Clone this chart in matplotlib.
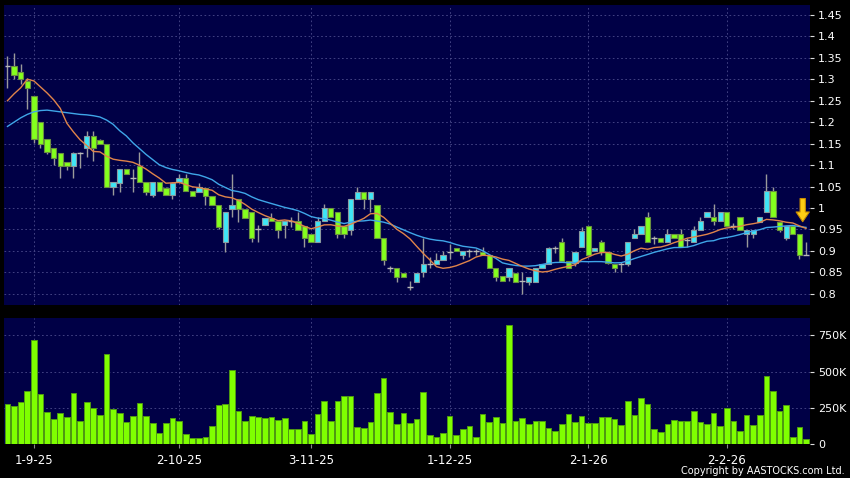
import matplotlib
matplotlib.use('Agg')
import matplotlib.pyplot as plt
import numpy as np
import pandas as pd

# daily OHLC (HK$), oldest first
opens = [
    1.33, 1.33, 1.317, 1.296, 1.26, 1.20, 1.161, 1.14, 1.128, 1.107,
    1.098, 1.128, 1.14, 1.168, 1.159, 1.15, 1.05, 1.058, 1.09, 1.07,
    1.098, 1.06, 1.03, 1.06, 1.047, 1.03, 1.061, 1.07, 1.04, 1.038,
    1.047, 1.028, 1.008, 0.921, 0.998, 1.02, 0.998, 0.991, 0.95, 0.96,
    0.977, 0.97, 0.96, 0.97, 0.97, 0.958, 0.94, 0.921, 0.97, 1.0,
    0.991, 0.958, 0.949, 1.02, 1.037, 1.02, 1.008, 0.93, 0.86, 0.86,
    0.849, 0.816, 0.828, 0.851, 0.87, 0.87, 0.879, 0.898, 0.907, 0.891,
    0.9, 0.9, 0.898, 0.891, 0.86, 0.842, 0.84, 0.849, 0.83, 0.828,
    0.828, 0.86, 0.87, 0.907, 0.921, 0.877, 0.872, 0.91, 0.958, 0.9,
    0.921, 0.898, 0.87, 0.87, 0.87, 0.93, 0.94, 0.979, 0.93, 0.93,
    0.921, 0.94, 0.94, 0.925, 0.921, 0.949, 0.979, 0.979, 0.97, 0.991,
    0.958, 0.979, 0.94, 0.94, 0.968, 0.991, 1.04, 0.968, 0.93, 0.958,
    0.94, 0.89]
highs = [
    1.355, 1.36, 1.335, 1.303, 1.262, 1.20, 1.161, 1.14, 1.128, 1.107,
    1.13, 1.13, 1.18, 1.18, 1.16, 1.15, 1.06, 1.09, 1.09, 1.09,
    1.13, 1.06, 1.06, 1.06, 1.05, 1.06, 1.079, 1.079, 1.04, 1.059,
    1.047, 1.028, 1.008, 0.991, 1.08, 1.02, 0.998, 0.991, 0.96, 0.977,
    0.988, 0.97, 0.97, 0.98, 0.99, 0.958, 0.94, 0.979, 1.01, 1.0,
    0.991, 0.958, 1.02, 1.05, 1.037, 1.037, 1.008, 0.93, 0.865, 0.86,
    0.849, 0.83, 0.849, 0.93, 0.885, 0.895, 0.90, 0.915, 0.907, 0.9,
    0.905, 0.905, 0.91, 0.891, 0.86, 0.842, 0.86, 0.849, 0.85, 0.84,
    0.86, 0.87, 0.91, 0.912, 0.93, 0.877, 0.898, 0.955, 0.958, 0.907,
    0.925, 0.898, 0.87, 0.875, 0.921, 0.95, 0.958, 0.99, 0.935, 0.93,
    0.95, 0.94, 0.95, 0.93, 0.958, 0.98, 0.991, 1.01, 0.991, 0.991,
    0.965, 0.979, 0.949, 0.949, 0.979, 1.079, 1.05, 0.968, 0.958, 0.958,
    0.94, 0.92]
lows = [
    1.28, 1.30, 1.29, 1.23, 1.152, 1.14, 1.126, 1.10, 1.07, 1.089,
    1.07, 1.093, 1.119, 1.11, 1.15, 1.048, 1.03, 1.037, 1.08, 1.037,
    1.06, 1.03, 1.025, 1.04, 1.03, 1.02, 1.061, 1.04, 1.028, 1.038,
    1.007, 1.008, 0.95, 0.898, 0.98, 0.968, 0.977, 0.921, 0.921, 0.96,
    0.97, 0.93, 0.93, 0.955, 0.949, 0.91, 0.921, 0.921, 0.97, 0.98,
    0.93, 0.93, 0.937, 1.02, 0.998, 0.991, 0.93, 0.867, 0.85, 0.828,
    0.84, 0.81, 0.828, 0.84, 0.86, 0.87, 0.879, 0.88, 0.9, 0.88,
    0.885, 0.89, 0.891, 0.86, 0.83, 0.829, 0.83, 0.828, 0.80, 0.82,
    0.828, 0.86, 0.87, 0.895, 0.877, 0.86, 0.865, 0.91, 0.89, 0.9,
    0.89, 0.87, 0.85, 0.85, 0.865, 0.93, 0.94, 0.921, 0.915, 0.921,
    0.921, 0.93, 0.91, 0.91, 0.921, 0.949, 0.979, 0.96, 0.97, 0.958,
    0.95, 0.949, 0.91, 0.93, 0.968, 0.991, 0.979, 0.945, 0.925, 0.94,
    0.88, 0.89]
closes = [
    1.33, 1.31, 1.30, 1.28, 1.16, 1.149, 1.131, 1.117, 1.098, 1.098,
    1.128, 1.128, 1.168, 1.14, 1.15, 1.05, 1.06, 1.09, 1.08, 1.07,
    1.06, 1.037, 1.06, 1.04, 1.03, 1.059, 1.07, 1.04, 1.028, 1.05,
    1.028, 1.008, 0.955, 0.991, 1.008, 0.998, 0.977, 0.93, 0.95, 0.977,
    0.97, 0.949, 0.97, 0.97, 0.949, 0.93, 0.921, 0.97, 1.0, 0.98,
    0.94, 0.94, 1.02, 1.037, 1.02, 1.037, 0.93, 0.879, 0.86, 0.84,
    0.84, 0.816, 0.849, 0.87, 0.87, 0.879, 0.891, 0.898, 0.9, 0.9,
    0.9, 0.9, 0.891, 0.86, 0.84, 0.829, 0.86, 0.828, 0.83, 0.84,
    0.86, 0.87, 0.907, 0.907, 0.877, 0.86, 0.898, 0.947, 0.891, 0.907,
    0.898, 0.872, 0.86, 0.87, 0.921, 0.94, 0.958, 0.921, 0.93, 0.921,
    0.94, 0.93, 0.91, 0.925, 0.949, 0.97, 0.991, 0.97, 0.991, 0.958,
    0.958, 0.949, 0.949, 0.949, 0.979, 1.04, 0.979, 0.949, 0.958, 0.94,
    0.891, 0.89]
# volume in thousands of shares
volumes = [
    273, 264, 289, 363, 715, 347, 218, 174, 215, 188,
    350, 157, 287, 252, 197, 620, 241, 215, 155, 194,
    282, 192, 148, 76, 146, 181, 160, 72, 42, 42,
    51, 127, 271, 273, 509, 231, 157, 194, 188, 178,
    185, 169, 178, 104, 104, 157, 72, 204, 294, 162,
    296, 333, 329, 116, 113, 155, 354, 454, 218, 141,
    215, 146, 176, 356, 65, 51, 76, 194, 65, 106,
    123, 51, 208, 155, 185, 148, 822, 157, 181, 139,
    160, 157, 111, 88, 141, 208, 155, 190, 146, 146,
    185, 185, 176, 132, 294, 201, 317, 278, 104, 83,
    141, 169, 160, 160, 227, 155, 137, 213, 123, 248,
    162, 88, 197, 132, 201, 472, 363, 225, 271, 51,
    118, 37]

# moving averages before enough closes are on the chart
ma10_head = [1.25, 1.266, 1.28, 1.30, 1.296, 1.282, 1.268, 1.252, 1.232]
ma20_head = [1.19, 1.20, 1.21, 1.218, 1.224, 1.227, 1.228, 1.226, 1.224, 1.222,
             1.22, 1.218, 1.217, 1.215, 1.212, 1.205, 1.195, 1.18, 1.168]

tick_pos = [4, 26, 46, 67, 88, 109]
tick_labels = ['1-9-25', '2-10-25', '3-11-25', '1-12-25', '2-1-26', '2-2-26']

df = pd.DataFrame({'open': opens, 'high': highs, 'low': lows,
                   'close': closes, 'volume': volumes})
ma10 = df['close'].rolling(10).mean()
ma10.iloc[:len(ma10_head)] = ma10_head
ma20 = df['close'].rolling(20).mean()
ma20.iloc[:len(ma20_head)] = ma20_head

panel = '#000046'
grid_col = '#4c4c8c'
fig = plt.figure(figsize=(8.5, 4.78), dpi=100, facecolor='black')
ax1 = fig.add_axes([0.0047, 0.362, 0.9482, 0.6276], facecolor=panel)
ax2 = fig.add_axes([0.0047, 0.0711, 0.9482, 0.2636], facecolor=panel)

x = np.arange(len(df))
up = (df['close'] > df['open']).values
down = (df['close'] < df['open']).values
flat = ~(up | down)

# candles
ax1.vlines(x, df['low'], df['high'], color='#9a9a9a', lw=1, zorder=2)
ax1.bar(x[up], (df['close'] - df['open'])[up], bottom=df['open'][up],
        width=0.8, color='#3ee6f6', edgecolor='#8a9aa0', lw=0.8, zorder=3)
ax1.bar(x[down], (df['open'] - df['close'])[down], bottom=df['close'][down],
        width=0.8, color='#84ff1e', edgecolor='#6a9040', lw=0.8, zorder=3)
ax1.hlines(df['close'][flat], x[flat] - 0.45, x[flat] + 0.45,
           color='#b8b8b8', lw=1, zorder=3)

ax1.plot(x, ma20, color='#3fa6e8', lw=1, zorder=4)
ax1.plot(x, ma10, color='#e0844a', lw=1, zorder=4)

ax1.annotate('', xy=(120.5, 0.968), xytext=(120.5, 1.022),
             arrowprops=dict(arrowstyle='simple,head_width=0.95,head_length=0.7,tail_width=0.38',
                             fc='#ffcc14', ec='#c88a00', lw=0.8,
                             shrinkA=0, shrinkB=0, mutation_scale=10),
             zorder=6)

# volume
ax2.bar(x, df['volume'] * 1000, width=0.86, color='#7fff00',
        edgecolor='#4f9a12', lw=0.7, zorder=3)

for ax in (ax1, ax2):
    ax.set_xlim(-0.53, 121.6)
    ax.set_xticks(tick_pos)
    ax.grid(True, color=grid_col, ls=(0, (2, 3)), lw=0.6)
    ax.set_axisbelow(True)
    for s in ax.spines.values():
        s.set_visible(False)
    ax.yaxis.tick_right()
    ax.tick_params(axis='y', colors='#dddddd', labelcolor='white',
                   length=3, width=0.8, pad=3, labelsize=8)
    ax.tick_params(axis='x', colors='#888888', labelcolor='white',
                   length=3, width=0.8, pad=4, labelsize=8.5)

ax1.set_ylim(0.774, 1.473)
ax1.set_yticks(np.arange(0.8, 1.451, 0.05))
ax1.yaxis.set_major_formatter(plt.FuncFormatter(lambda v, _: f'{round(v, 2):g}'))
ax1.tick_params(axis='x', labelbottom=False, length=0)

ax2.set_ylim(0, 870000)
ax2.set_yticks([0, 250000, 500000, 750000])
ax2.set_yticklabels(['0', '250K', '500K', '750K'])
ax2.set_xticklabels(tick_labels)

fig.text(0.994, 0.004, 'Copyright by AASTOCKS.com Ltd.', ha='right', va='bottom',
         color='white', fontsize=7)

fig.savefig('out.png', dpi=100, facecolor='black')
